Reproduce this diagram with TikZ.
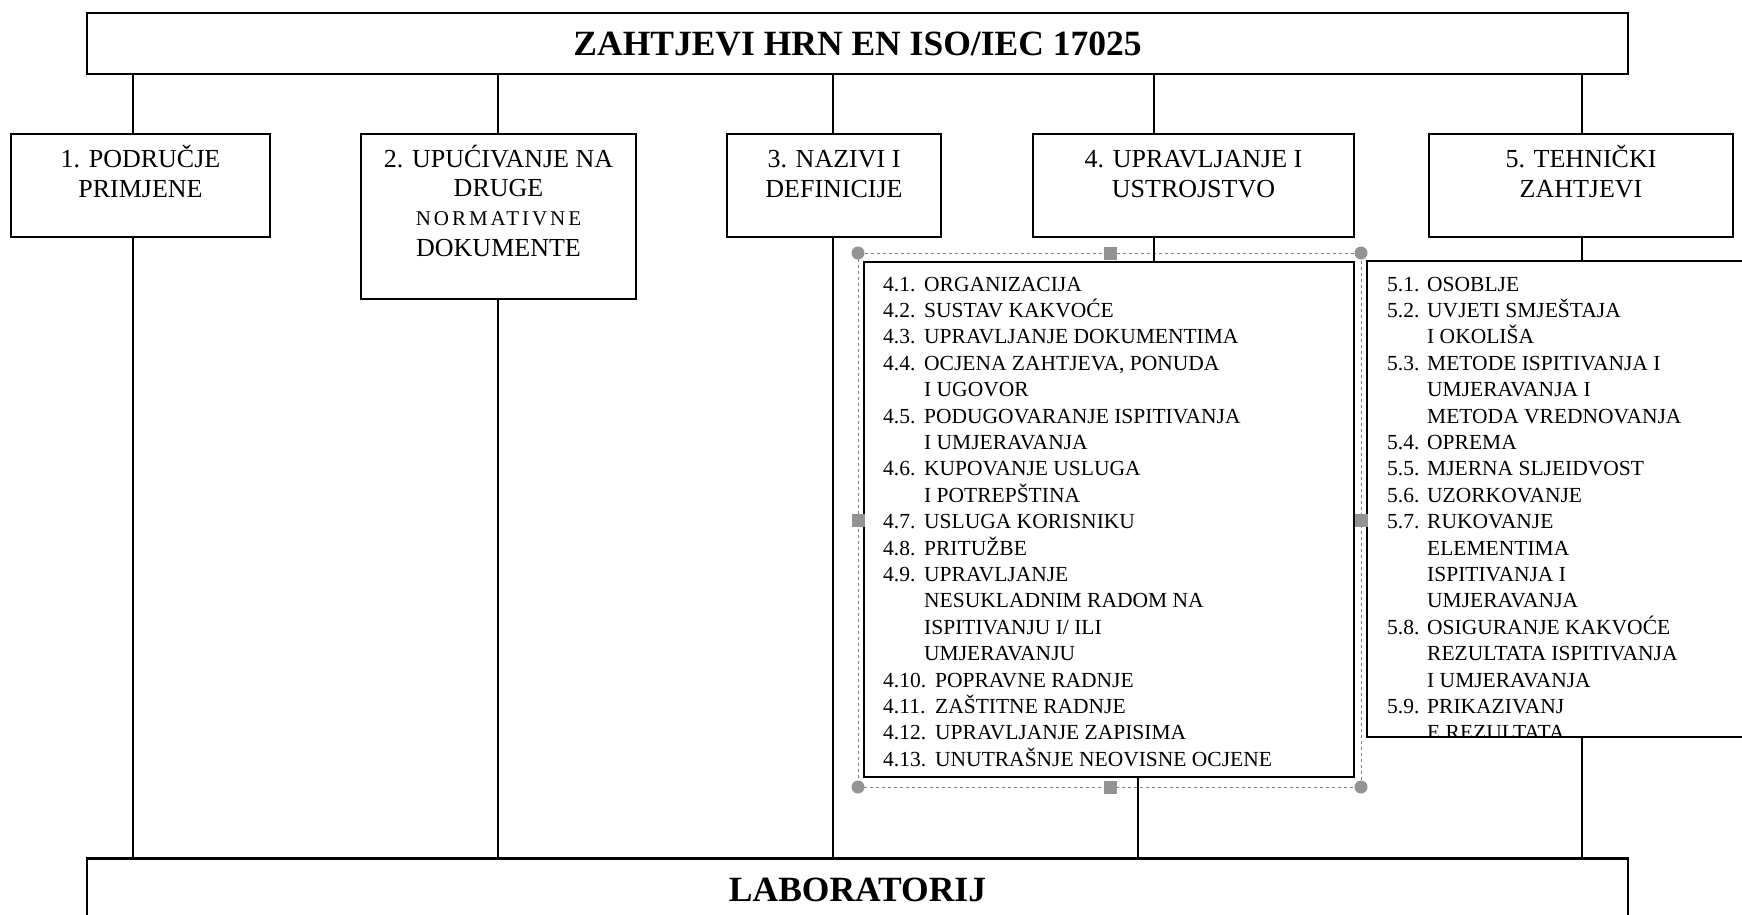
\documentclass[tikz,border=0pt]{standalone}
\usepackage{fontspec}
\setmainfont{Liberation Serif}
\begin{document}
\begin{tikzpicture}[x=1pt,y=-1pt,
  box/.style={draw, line width=1.5pt, inner sep=0pt, rectangle},
  conn/.style={line width=1.2pt},
  boxfont/.style={font=\fontsize{26}{30}\selectfont},
  titlefont/.style={font=\fontsize{35.5}{40}\selectfont\bfseries},
  listtxt/.style={anchor=base west, inner sep=0pt, font=\fontsize{21.5}{26}\selectfont},
  handle/.style={fill=gray!85, draw=none},
  selframe/.style={draw=gray, dashed, line width=0.8pt}]
\useasboundingbox (0,0) rectangle (1742,914);
\clip (0,0) rectangle (1742,914);
\fill[white] (0,0) rectangle (1742,914);

% top and bottom boxes
\node[box, titlefont, minimum width=1541pt, minimum height=61pt] (top) at (857.5,43.5) {ZAHTJEVI HRN EN ISO/IEC 17025};
\node[box, titlefont] (bot) at (857.5,899.5) {\parbox[c][81pt][t]{1541pt}{\centering\rule{0pt}{42.6pt}LABORATORIJ}};
\draw[line width=3pt] (bot.north west) -- (bot.north east);

% level boxes
\node[box, boxfont] (b1) at (140.5,185.5) {\parbox[c][103pt][t]{259pt}{\centering\rule{0pt}{33.6pt}1. PODRUČJE\\PRIMJENE}};
\node[box, boxfont] (b2) at (498.5,216.5) {\parbox[c][165pt][t]{275pt}{\centering\rule{0pt}{33.6pt}2. UPUĆIVANJE NA\\[-1pt]DRUGE\\[-1pt]{\fontsize{21}{28}\addfontfeature{LetterSpace=14}\selectfont NORMATIVNE}\\[1pt]DOKUMENTE}};
\node[box, boxfont] (b3) at (834,185.5) {\parbox[c][103pt][t]{214pt}{\centering\rule{0pt}{33.6pt}3. NAZIVI I\\DEFINICIJE}};
\node[box, boxfont] (b4) at (1193.5,185.5) {\parbox[c][103pt][t]{321pt}{\centering\rule{0pt}{33.6pt}4. UPRAVLJANJE I\\USTROJSTVO}};
\node[box, boxfont] (b5) at (1581,185.5) {\parbox[c][103pt][t]{304pt}{\centering\rule{0pt}{33.6pt}5. TEHNIČKI\\ZAHTJEVI}};

% sub boxes
\node[box, minimum width=490pt, minimum height=515pt] (s4) at (1109,519.5) {};
\node[box, minimum width=393pt, minimum height=476pt] (s5) at (1563.5,499) {};

% selection frame with handles
\draw[selframe] (858,253) rectangle (1361,787);
\foreach \p in {(858,253),(1361,253),(858,787),(1361,787)}
  \fill[handle] \p circle (6.5pt);
\foreach \p in {(1110,253),(1110,787),(858,520),(1361,520)}
  \fill[handle] \p ++(-6.5,-6.5) rectangle ++(13,13);

% connector x positions
\coordinate (x1) at (133,0);
\coordinate (x2) at (498,0);
\coordinate (x3) at (833,0);
\coordinate (x4) at (1154,0);
\coordinate (x4b) at (1138,0);
\coordinate (x5) at (1582,0);

\draw[conn] (top.south -| x1) -- (b1.north -| x1);
\draw[conn] (b1.south -| x1) -- (bot.north -| x1);
\draw[conn] (top.south -| x2) -- (b2.north -| x2);
\draw[conn] (b2.south -| x2) -- (bot.north -| x2);
\draw[conn] (top.south -| x3) -- (b3.north -| x3);
\draw[conn] (b3.south -| x3) -- (bot.north -| x3);
\draw[conn] (top.south -| x4) -- (b4.north -| x4);
\draw[conn] (b4.south -| x4) -- (s4.north -| x4);
\draw[conn] (s4.south -| x4b) -- (bot.north -| x4b);
\draw[conn] (top.south -| x5) -- (b5.north -| x5);
\draw[conn] (b5.south -| x5) -- (s5.north -| x5);
\draw[conn] (s5.south -| x5) -- (bot.north -| x5);

% list of box 4
\foreach \w/\n/\t [count=\i] in {
  41/{4.1.}/{ORGANIZACIJA},
  41/{4.2.}/{SUSTAV KAKVOĆE},
  41/{4.3.}/{UPRAVLJANJE DOKUMENTIMA},
  41/{4.4.}/{OCJENA ZAHTJEVA, PONUDA},
  41/{}/{I UGOVOR},
  41/{4.5.}/{PODUGOVARANJE ISPITIVANJA},
  41/{}/{I UMJERAVANJA},
  41/{4.6.}/{KUPOVANJE USLUGA},
  41/{}/{I POTREPŠTINA},
  41/{4.7.}/{USLUGA KORISNIKU},
  41/{4.8.}/{PRITUŽBE},
  41/{4.9.}/{UPRAVLJANJE},
  41/{}/{NESUKLADNIM RADOM NA},
  41/{}/{ISPITIVANJU I/ ILI},
  41/{}/{UMJERAVANJU},
  52/{4.10.}/{POPRAVNE RADNJE},
  52/{4.11.}/{ZAŠTITNE RADNJE},
  52/{4.12.}/{UPRAVLJANJE ZAPISIMA},
  52/{4.13.}/{UNUTRAŠNJE NEOVISNE OCJENE}}
  \node[listtxt] (l4-\i) at (883,{291.1+26.4*(\i-1)}) {\makebox[\w pt][l]{\n}\t};

% list of box 5 (clipped by its box)
\begin{scope}
\clip (s5.north west) rectangle (s5.south east);
\foreach \n/\t [count=\i] in {
  {5.1.}/{OSOBLJE},
  {5.2.}/{UVJETI SMJEŠTAJA},
  {}/{I OKOLIŠA},
  {5.3.}/{METODE ISPITIVANJA I},
  {}/{UMJERAVANJA I},
  {}/{METODA VREDNOVANJA},
  {5.4.}/{OPREMA},
  {5.5.}/{MJERNA SLJEIDVOST},
  {5.6.}/{UZORKOVANJE},
  {5.7.}/{RUKOVANJE},
  {}/{ELEMENTIMA},
  {}/{ISPITIVANJA I},
  {}/{UMJERAVANJA},
  {5.8.}/{OSIGURANJE KAKVOĆE},
  {}/{REZULTATA ISPITIVANJA},
  {}/{I UMJERAVANJA},
  {5.9.}/{PRIKAZIVANJ},
  {}/{E REZULTATA}}
  \node[listtxt] (l5-\i) at (1387,{291.1+26.4*(\i-1)}) {\makebox[40pt][l]{\n}\t};
\end{scope}
\end{tikzpicture}
\end{document}
